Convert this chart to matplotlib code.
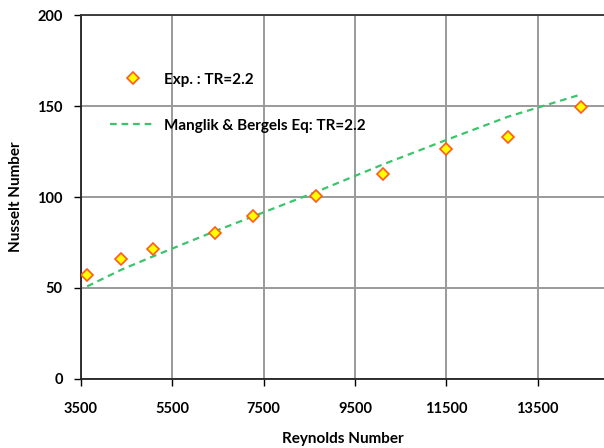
import matplotlib
matplotlib.use("Agg")
import matplotlib.pyplot as plt

# Data
re_exp = [3640, 4390, 5090, 6440, 7280, 8650, 10120, 11490, 12850, 14440]
nu_exp = [57.0, 65.9, 71.4, 80.3, 89.8, 100.5, 112.7, 126.5, 132.8, 149.8]
nu_eq = [50.8, 60.0, 67.4, 81.2, 89.4, 102.8, 118.0, 131.3, 144.2, 156.4]
xticks = [3500, 5500, 7500, 9500, 11500, 13500]
yticks = [0, 50, 100, 150, 200]

plt.rcParams['font.family'] = ['Lato', 'DejaVu Sans']
plt.rcParams['font.weight'] = 'bold'

fig = plt.figure(figsize=(6.04, 4.48), dpi=100)
ax = fig.add_axes([0.1336, 0.1547, 0.8664, 0.8111])

ax.plot(re_exp, nu_exp, linestyle='none', marker='D', markersize=6,
        markerfacecolor='#FFFF00', markeredgecolor='#FF5A1E', markeredgewidth=1.2,
        label='Exp. : TR=2.2', zorder=4)
ax.plot(re_exp, nu_eq, linestyle=(0, (3, 2.2)), color='#3CC46A', linewidth=1.6,
        label='Manglik & Bergels Eq: TR=2.2', zorder=3)

ax.set_xlim(3500, 14950)
ax.set_ylim(0, 200)
ax.set_xticks(xticks)
ax.set_yticks(yticks)
ax.grid(True, color='#9A9A9A', linewidth=1.4)
ax.set_axisbelow(True)

ax.spines['right'].set_visible(False)
ax.spines['top'].set_color('#333333')
ax.spines['top'].set_linewidth(1.3)
for s in ['left', 'bottom']:
    ax.spines[s].set_color('#222222')
    ax.spines[s].set_linewidth(1.3)

ax.tick_params(axis='both', direction='out', length=5, width=1.0, labelsize=10.5,
               colors='black')
ax.tick_params(axis='x', pad=12)
ax.tick_params(axis='y', pad=8)
for lbl in ax.get_xticklabels() + ax.get_yticklabels():
    lbl.set_fontweight('bold')

ax.set_xlabel('Reynolds Number', fontsize=11, fontweight='bold', labelpad=11)
ax.set_ylabel('Nusselt Number', fontsize=11, fontweight='bold', labelpad=10)

leg = ax.legend(loc='upper left', bbox_to_anchor=(0.03, 0.88), frameon=False,
                fontsize=11, labelspacing=2.1, handlelength=3.0, handletextpad=0.5)
for t in leg.get_texts():
    t.set_fontweight('bold')

fig.savefig('out.png', dpi=100)
